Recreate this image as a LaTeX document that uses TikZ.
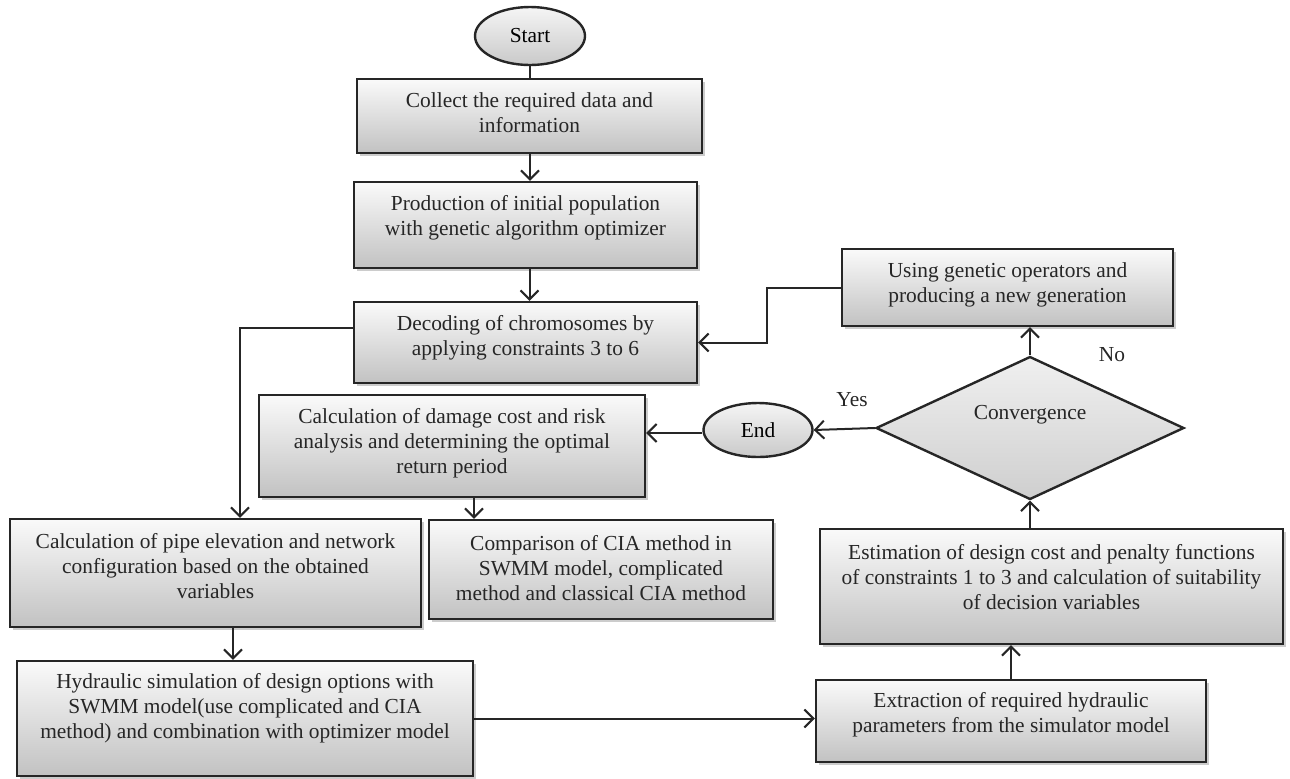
\documentclass[tikz,border=0pt]{standalone}
\usepackage{fontspec}
\setmainfont{Liberation Serif}
\usetikzlibrary{shapes.geometric,shadows,arrows.meta}
\begin{document}
\begin{tikzpicture}[x=0.5pt,y=-0.5pt,
  box/.style={draw=black!85,line width=1.2pt,top color=gray!4,bottom color=gray!48,
    drop shadow={shadow xshift=1.3pt,shadow yshift=-1.3pt,opacity=0.4},inner sep=0pt},
  oval/.style={ellipse,draw=black!85,line width=1.2pt,top color=gray!8,bottom color=gray!42,inner sep=0pt,
    font=\fontsize{10.7}{12.5}\selectfont},
  dia/.style={diamond,draw=black!85,line width=1.2pt,top color=gray!12,bottom color=gray!38,inner sep=0pt},
  txt/.style={align=center,font=\fontsize{10.7}{12.5}\selectfont,inner sep=0pt,text=black!85},
  arr/.style={line width=1pt,draw=black!85,-{Straight Barb[length=4.5pt,width=9pt,line width=1pt]}},
  ln/.style={line width=1pt,draw=black!85}]
\useasboundingbox (0,0) rectangle (1290,778);

% boxes
\node[oval,minimum width=55pt,minimum height=29pt] (start) at (530,36) {Start};
\node[box,minimum width=172.5pt,minimum height=37pt] (collect) at (529.5,116) {};
\node[box,minimum width=171.5pt,minimum height=43pt] (prod) at (525.5,225) {};
\node[box,minimum width=171.5pt,minimum height=40.5pt] (decode) at (525.5,342.5) {};
\node[box,minimum width=193pt,minimum height=51pt] (damage) at (452,446) {};
\node[box,minimum width=165.5pt,minimum height=38.5pt] (using) at (1007.5,287.5) {};
\node[box,minimum width=205.5pt,minimum height=54pt] (pipe) at (215.5,573) {};
\node[box,minimum width=172pt,minimum height=49.5pt] (compare) at (601,569.5) {};
\node[box,minimum width=228pt,minimum height=57.5pt] (hydro) at (245,718.5) {};
\node[box,minimum width=231.5pt,minimum height=57.5pt] (estim) at (1051.5,586.5) {};
\node[box,minimum width=195pt,minimum height=41pt] (extract) at (1011,721) {};
\node[oval,minimum width=54.5pt,minimum height=27pt] (endn) at (758,430) {End};
\node[dia,minimum width=154pt,minimum height=71.5pt] (conv) at (1030,428) {};

% texts
\node[txt] (collectT) at (529.5,113) {Collect the required data and\\information};
\node[txt] (prodT) at (525.5,217.5) {Production of initial population\\with genetic algorithm optimizer};
\node[txt] (decodeT) at (525.5,337.5) {Decoding of chromosomes by\\applying constraints 3 to 6};
\node[txt] (damageT) at (452,443) {Calculation of damage cost and risk\\analysis and determining the optimal\\return period};
\node[txt] (usingT) at (1007.5,284.5) {Using genetic operators and\\producing a new generation};
\node[txt] (pipeT) at (215.5,566.5) {Calculation of pipe elevation and network\\configuration based on the obtained\\variables};
\node[txt] (compareT) at (601,568) {Comparison of CIA method in\\SWMM model, complicated\\method and classical CIA method};
\node[txt] (hydroT) at (245,708.5) {Hydraulic simulation of design options with\\SWMM model(use complicated and CIA\\method) and combination with optimizer model};
\node[txt] (estimT) at (1051.5,577) {Estimation of design cost and penalty functions\\of constraints 1 to 3 and calculation of suitability\\of decision variables};
\node[txt] (extractT) at (1011,714.5) {Extraction of required hydraulic\\parameters from the simulator model};
\node[txt] (convT) at (1030,415) {Convergence};
\node[txt] (yesT) at (852,400) {Yes};
\node[txt] (noT) at (1112,355) {No};

% connectors
\draw[ln] (start.south) -- (start.south |- collect.north);
\draw[arr] (collect.south -| start.south) -- (start.south |- prod.north);
\draw[arr] ([xshift=2pt]prod.south) -- ([xshift=2pt]decode.north);
\draw[arr] ([yshift=7.25pt]decode.west) -| ([xshift=12.25pt]pipe.north);
\draw[arr] ([xshift=11pt]damage.south) -- ([xshift=11pt]damage.south |- compare.north);
\draw[arr] ([xshift=8.75pt]pipe.south) -- ([xshift=8.75pt]pipe.south |- hydro.north);
\draw[arr] (hydro.east) -- (hydro.east -| extract.west);
\draw[arr] (extract.north) -- (extract.north |- estim.south);
\draw[arr] (conv.south |- estim.north) -- (conv.south);
\draw[arr] (conv.north) -- (conv.north |- using.south);
\draw[arr] (conv.west) -- (endn.east);
\draw[arr] ([yshift=-1.5pt]endn.west) -- ([yshift=-1.5pt]endn.west -| damage.east);
\draw[arr] (using.west) -- ++(-37pt,0) |- (decode.east);
\end{tikzpicture}
\end{document}
